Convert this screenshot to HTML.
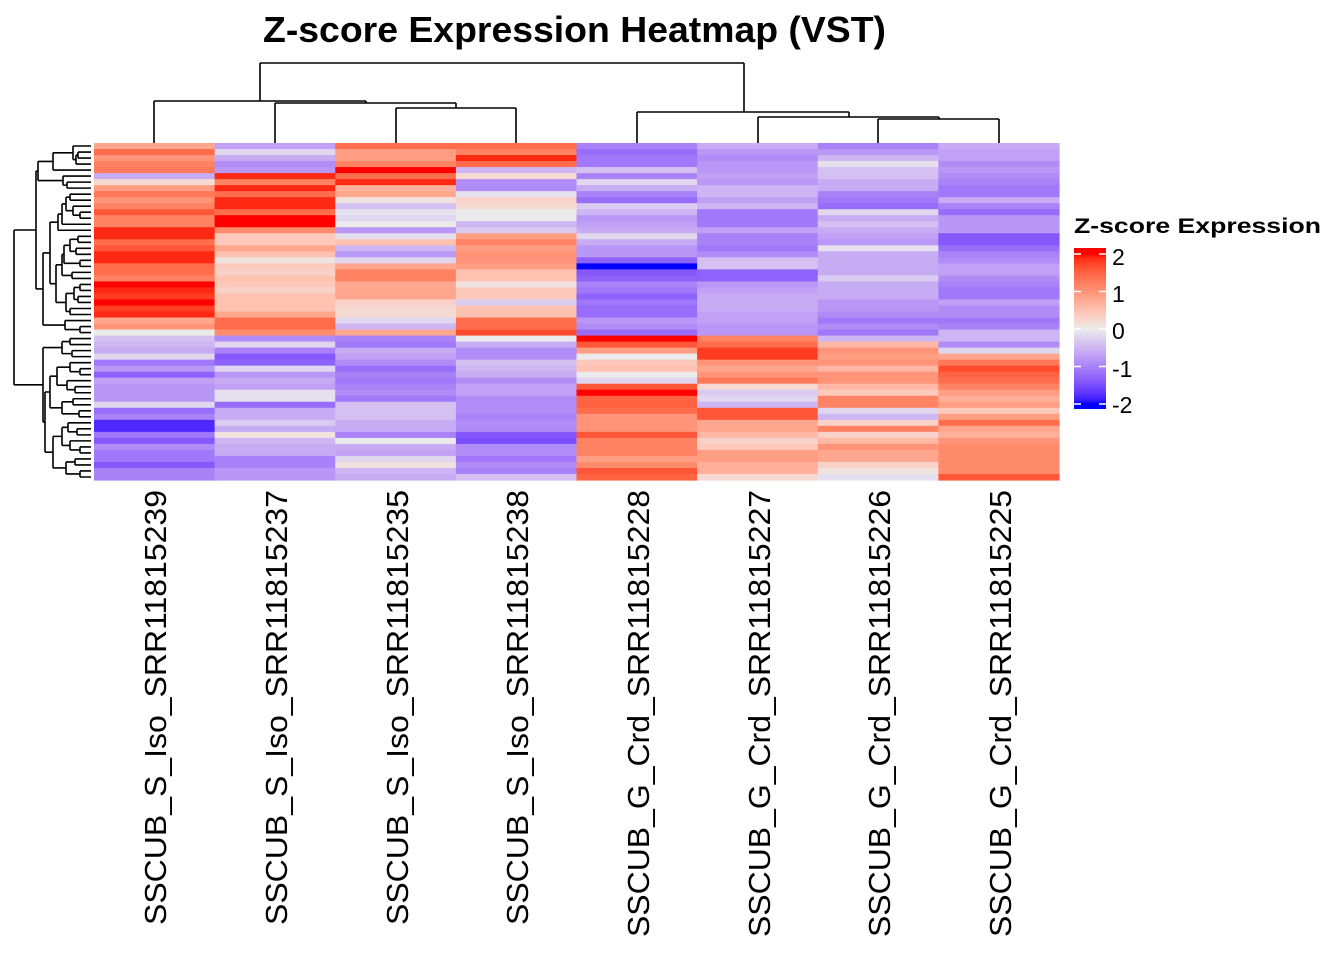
<!DOCTYPE html>
<html><head><meta charset="utf-8"><style>
html,body{margin:0;padding:0;background:#fff;}
svg{display:block;}
text{font-family:"Liberation Sans",Arial,sans-serif;}
</style></head><body>
<svg id="s" width="1344" height="960" xmlns="http://www.w3.org/2000/svg">
<defs><linearGradient id="lg" x1="0" y1="0" x2="0" y2="1"></linearGradient></defs>
<text x="263" y="42" font-size="36" font-weight="bold" textLength="623" lengthAdjust="spacingAndGlyphs">Z-score Expression Heatmap (VST)</text>
<g id="hm"></g><g id="dend" stroke="#000" stroke-width="1.6" fill="none"></g>
<text x="1074" y="233" font-size="21" font-weight="bold" textLength="247" lengthAdjust="spacingAndGlyphs">Z-score Expression</text>
<g id="leg"></g>
<g id="labs" font-size="31"></g>
</svg>
<script>
var C=[
[0.8,1.4,1.0,1.2,1.3,-0.6,0.2,0.9,1.3,1.0,1.2,1.6,1.2,1.2,1.9,1.9,1.4,1.6,1.9,1.9,1.4,1.4,1.2,2.0,1.9,1.8,2.0,1.8,1.9,0.8,1.0,0.0,-0.4,-0.5,-0.6,-0.2,-1.1,-0.8,-1.3,-0.7,-0.8,-0.8,-0.8,-0.2,-1.2,-1.0,-1.8,-1.8,-1.1,-1.4,-0.9,-1.1,-1.1,-1.4,-1.0,-1.0],
[-0.7,-0.2,-0.6,-0.9,-0.8,1.9,1.2,1.9,1.4,1.9,1.9,1.4,2.0,2.0,1.1,0.4,0.4,0.8,0.5,0.1,0.4,0.3,0.5,0.4,0.3,0.5,0.5,0.5,0.8,1.4,1.4,1.1,-0.9,-0.2,-1.0,-1.4,-1.3,-0.2,-0.8,-0.6,-0.7,-0.1,-0.1,-1.2,-0.6,-0.6,-0.3,-0.6,0.1,-0.5,-0.6,-0.6,-1.0,-1.0,-0.8,-0.8],
[1.4,0.9,0.9,1.2,2.0,1.4,1.9,0.7,0.8,0.1,-0.4,-0.1,-0.2,0.0,-0.8,-0.1,0.5,-0.5,-0.8,-0.2,0.8,1.2,1.2,0.8,0.8,0.8,0.3,0.2,0.2,-0.2,-0.5,0.8,-1.0,-1.1,-0.6,-0.7,-0.9,-1.2,-1.0,-1.1,-1.0,-0.9,-1.1,-0.4,-0.4,-0.4,-0.6,-0.6,-1.0,0.0,-0.6,-0.7,-0.2,0.1,-0.5,-0.6],
[1.4,1.2,1.9,1.4,-0.5,0.2,-0.9,-0.9,-0.1,0.3,0.2,0.0,0.0,-0.5,-0.3,0.9,1.2,0.9,1.0,1.0,0.9,0.5,0.5,0.1,0.4,0.4,-0.3,0.5,0.5,1.4,1.4,1.7,0.0,-0.6,-0.9,-0.9,-0.4,-0.5,-0.6,-0.9,-0.7,-0.7,-0.9,-0.9,-0.9,-1.0,-0.9,-0.9,-1.4,-1.5,-0.9,-0.9,-1.1,-0.9,-1.0,-0.4],
[-1.0,-1.2,-1.1,-1.1,-0.4,-1.0,-0.2,-0.6,-1.0,-1.2,-0.3,-0.5,-0.8,-0.7,-0.6,-0.2,-0.6,-0.8,-0.8,-1.3,-2.0,-1.4,-1.3,-1.0,-1.1,-1.3,-1.1,-1.2,-1.2,-0.8,-0.9,-1.2,2.0,1.6,0.9,0.0,0.4,0.5,0.0,-0.2,1.6,2.0,1.5,1.5,1.4,1.0,1.0,1.0,1.6,1.2,1.2,1.2,0.9,1.1,1.6,1.5],
[-0.6,-0.8,-0.9,-0.8,-0.8,-0.7,-0.8,-0.5,-0.5,-0.7,-0.5,-1.1,-1.1,-1.1,-0.7,-1.0,-1.0,-1.1,-0.9,-0.4,-0.4,-1.3,-1.3,-0.8,-0.7,-0.6,-0.6,-0.6,-0.7,-0.7,-0.8,-0.8,1.2,1.4,1.8,1.8,1.0,0.8,1.0,1.3,0.2,-0.3,-0.2,-0.5,1.6,1.6,0.8,0.8,0.6,0.3,0.4,0.9,0.9,0.7,0.7,0.2],
[-1.0,-0.8,-0.5,-0.1,-0.4,-0.4,-0.6,-0.6,-1.0,-1.1,-1.2,-0.2,-0.6,-0.4,-0.6,-0.7,-0.8,-0.1,-0.6,-0.6,-0.6,-0.6,-0.3,-0.6,-0.6,-0.6,-0.8,-0.8,-0.9,-1.1,-0.9,-1.1,-0.5,0.6,1.0,0.9,1.0,0.6,1.0,1.0,0.6,0.4,1.2,1.2,-0.2,-0.5,0.3,1.2,0.3,0.6,1.0,0.8,0.8,0.3,0.1,-0.1],
[-0.6,-0.7,-0.7,-0.9,-0.8,-0.9,-1.0,-1.1,-1.1,-0.6,-1.0,-1.2,-0.8,-0.8,-0.8,-1.4,-1.4,-1.2,-1.0,-0.9,-0.7,-0.7,-0.9,-1.0,-1.1,-1.1,-0.7,-0.9,-0.9,-1.1,-1.0,-0.5,-0.5,-0.9,-0.2,0.8,1.3,1.7,1.5,1.4,1.2,0.9,0.7,0.9,0.4,0.9,1.4,0.8,0.7,1.0,1.1,1.1,1.1,1.1,1.1,1.6]];
function lin(c){c/=255;return c<=0.04045?c/12.92:Math.pow((c+0.055)/1.055,2.4);}
function unl(c){c=c<=0.0031308?12.92*c:1.055*Math.pow(c,1/2.4)-0.055;return Math.max(0,Math.min(255,Math.round(c*255)));}
function f(t){return t>0.008856?Math.cbrt(t):7.787*t+16/116;}
function fi(t){return t>0.206893?t*t*t:(t-16/116)/7.787;}
function toLab(r,g,b){r=lin(r);g=lin(g);b=lin(b);
var X=(r*0.4124+g*0.3576+b*0.1805)/0.95047,Y=r*0.2126+g*0.7152+b*0.0722,Z=(r*0.0193+g*0.1192+b*0.9505)/1.08883;
return [116*f(Y)-16,500*(f(X)-f(Y)),200*(f(Y)-f(Z))];}
function toRgb(L){var fy=(L[0]+16)/116,fx=fy+L[1]/500,fz=fy-L[2]/200;
var X=fi(fx)*0.95047,Y=fi(fy),Z=fi(fz)*1.08883;
var r=X*3.2406-Y*1.5372-Z*0.4986,g=-X*0.9689+Y*1.8758+Z*0.0415,b=X*0.0557-Y*0.2040+Z*1.0570;
return 'rgb('+unl(r)+','+unl(g)+','+unl(b)+')';}
var B=toLab(0,0,255),M=toLab(235,235,235),R=toLab(255,0,0);
function col(v){v=Math.max(-2,Math.min(2,v));var a,b,t;if(v<0){a=M;b=B;t=-v/2;}else{a=M;b=R;t=v/2;}
return toRgb([a[0]+(b[0]-a[0])*t,a[1]+(b[1]-a[1])*t,a[2]+(b[2]-a[2])*t]);}
var NS='http://www.w3.org/2000/svg';
function el(p,n,at,txt){var e=document.createElementNS(NS,n);for(var k in at)e.setAttribute(k,at[k]);if(txt)e.textContent=txt;p.appendChild(e);return e;}
var hm=document.getElementById('hm'),X0=94,X1=1059,Y0=143,Y1=480,NR=56,cw=(X1-X0)/8,rh=(Y1-Y0)/NR;
for(var c=0;c<8;c++)for(var r=0;r<NR;r++){
el(hm,'rect',{x:(X0+c*cw).toFixed(2),y:(Y0+r*rh).toFixed(2),width:(cw+0.6).toFixed(2),height:(rh+0.6).toFixed(2),fill:col(C[c][r])});}
var d=document.getElementById('dend'),P='';
function L(x1,y1,x2,y2){P+='M'+x1+' '+y1+'L'+x2+' '+y2;}
var cx=[154,275,396,516,637,758,878,999];
L(260,63,744,63);L(260,63,260,101);L(744,63,744,112);
L(154,101,366,101);L(154,101,154,143);L(366,101,366,103);
L(275,103,456,103);L(275,103,275,143);L(456,103,456,108);
L(396,108,516,108);L(396,108,396,143);L(516,108,516,143);
L(637,112,849,112);L(637,112,637,143);L(849,112,849,117);
L(758,117,939,117);L(758,117,758,143);L(939,117,939,119);
L(878,119,999,119);L(878,119,878,143);L(999,119,999,143);
function n(x,a,b){return {x:x,a:a,b:b};}
var A=n(53,n(73,0,n(76,n(78,1,2),3)),4);
var Cc=n(63,5,n(67,6,7));
var AC=n(38,A,Cc);
var G1=n(62,n(66,n(70,8,9),n(73,10,n(80,11,12))),13);
var G1b=n(58,G1,14);
var G2a=n(64,n(70,n(78,15,16),n(76,17,18)),n(80,19,20));
var G2=n(56,n(62,G2a,n(72,21,22)),n(66,n(74,n(80,23,24),n(78,25,26)),n(70,27,28)));
var B1=n(50,G1b,G2);
var Bt=n(43,B1,n(65,29,n(80,30,31)));
var Top=n(36,AC,Bt);
var D=n(62,n(70,32,33),n(72,34,35));
var E1=n(57,n(70,36,n(80,37,38)),n(67,39,n(75,40,41)));
var E2=n(62,n(73,42,43),n(79,44,45));
var E3=n(62,n(68,46,n(77,47,48)),n(70,49,n(80,50,51)));
var E4=n(66,n(75,52,53),n(80,54,55));
var E=n(45,n(50,E1,E2),n(53,E3,E4));
var Bot=n(43,D,E);
var Root=n(14,Top,Bot);
function draw(t){if(typeof t==='number')return {x:91,y:Y0+(t+0.5)*rh};
var a=draw(t.a),b=draw(t.b);L(t.x,a.y,a.x,a.y);L(t.x,b.y,b.x,b.y);L(t.x,a.y,t.x,b.y);return {x:t.x,y:(a.y+b.y)/2};}
draw(Root);
el(d,'path',{d:P});
var g=document.getElementById('lg');
el(g,'stop',{offset:'0','stop-color':col(2)});
for(var i=0;i<=40;i++){var v=2-i/10;el(g,'stop',{offset:((254-248+(2-v)*37.5)/161).toFixed(4),'stop-color':col(v)});}
el(g,'stop',{offset:'1','stop-color':col(-2)});
var lg=document.getElementById('leg');
el(lg,'rect',{x:1074,y:248,width:32,height:161,fill:'url(#lg)'});
var ty=[254,291.5,329,366.5,404],tl=['2','1','0','-1','-2'],bl=[265,302,339,377,413];
for(var i=0;i<5;i++){el(lg,'line',{x1:1074,x2:1081,y1:ty[i],y2:ty[i],stroke:'#fff','stroke-width':1.5});
el(lg,'line',{x1:1099,x2:1106,y1:ty[i],y2:ty[i],stroke:'#fff','stroke-width':1.5});
el(lg,'text',{x:1112,y:bl[i],'font-size':23},tl[i]);}
var labs=document.getElementById('labs');
var names=['SSCUB_S_Iso_SRR11815239','SSCUB_S_Iso_SRR11815237','SSCUB_S_Iso_SRR11815235','SSCUB_S_Iso_SRR11815238','SSCUB_G_Crd_SRR11815228','SSCUB_G_Crd_SRR11815227','SSCUB_G_Crd_SRR11815226','SSCUB_G_Crd_SRR11815225'];
for(var i=0;i<8;i++){var bx=cx[i]+12,len=i<4?435:447;
el(labs,'text',{transform:'translate('+bx+',490) rotate(-90)','text-anchor':'end',x:0,y:0,textLength:len,lengthAdjust:'spacingAndGlyphs'},names[i]);}
</script>
</body></html>
